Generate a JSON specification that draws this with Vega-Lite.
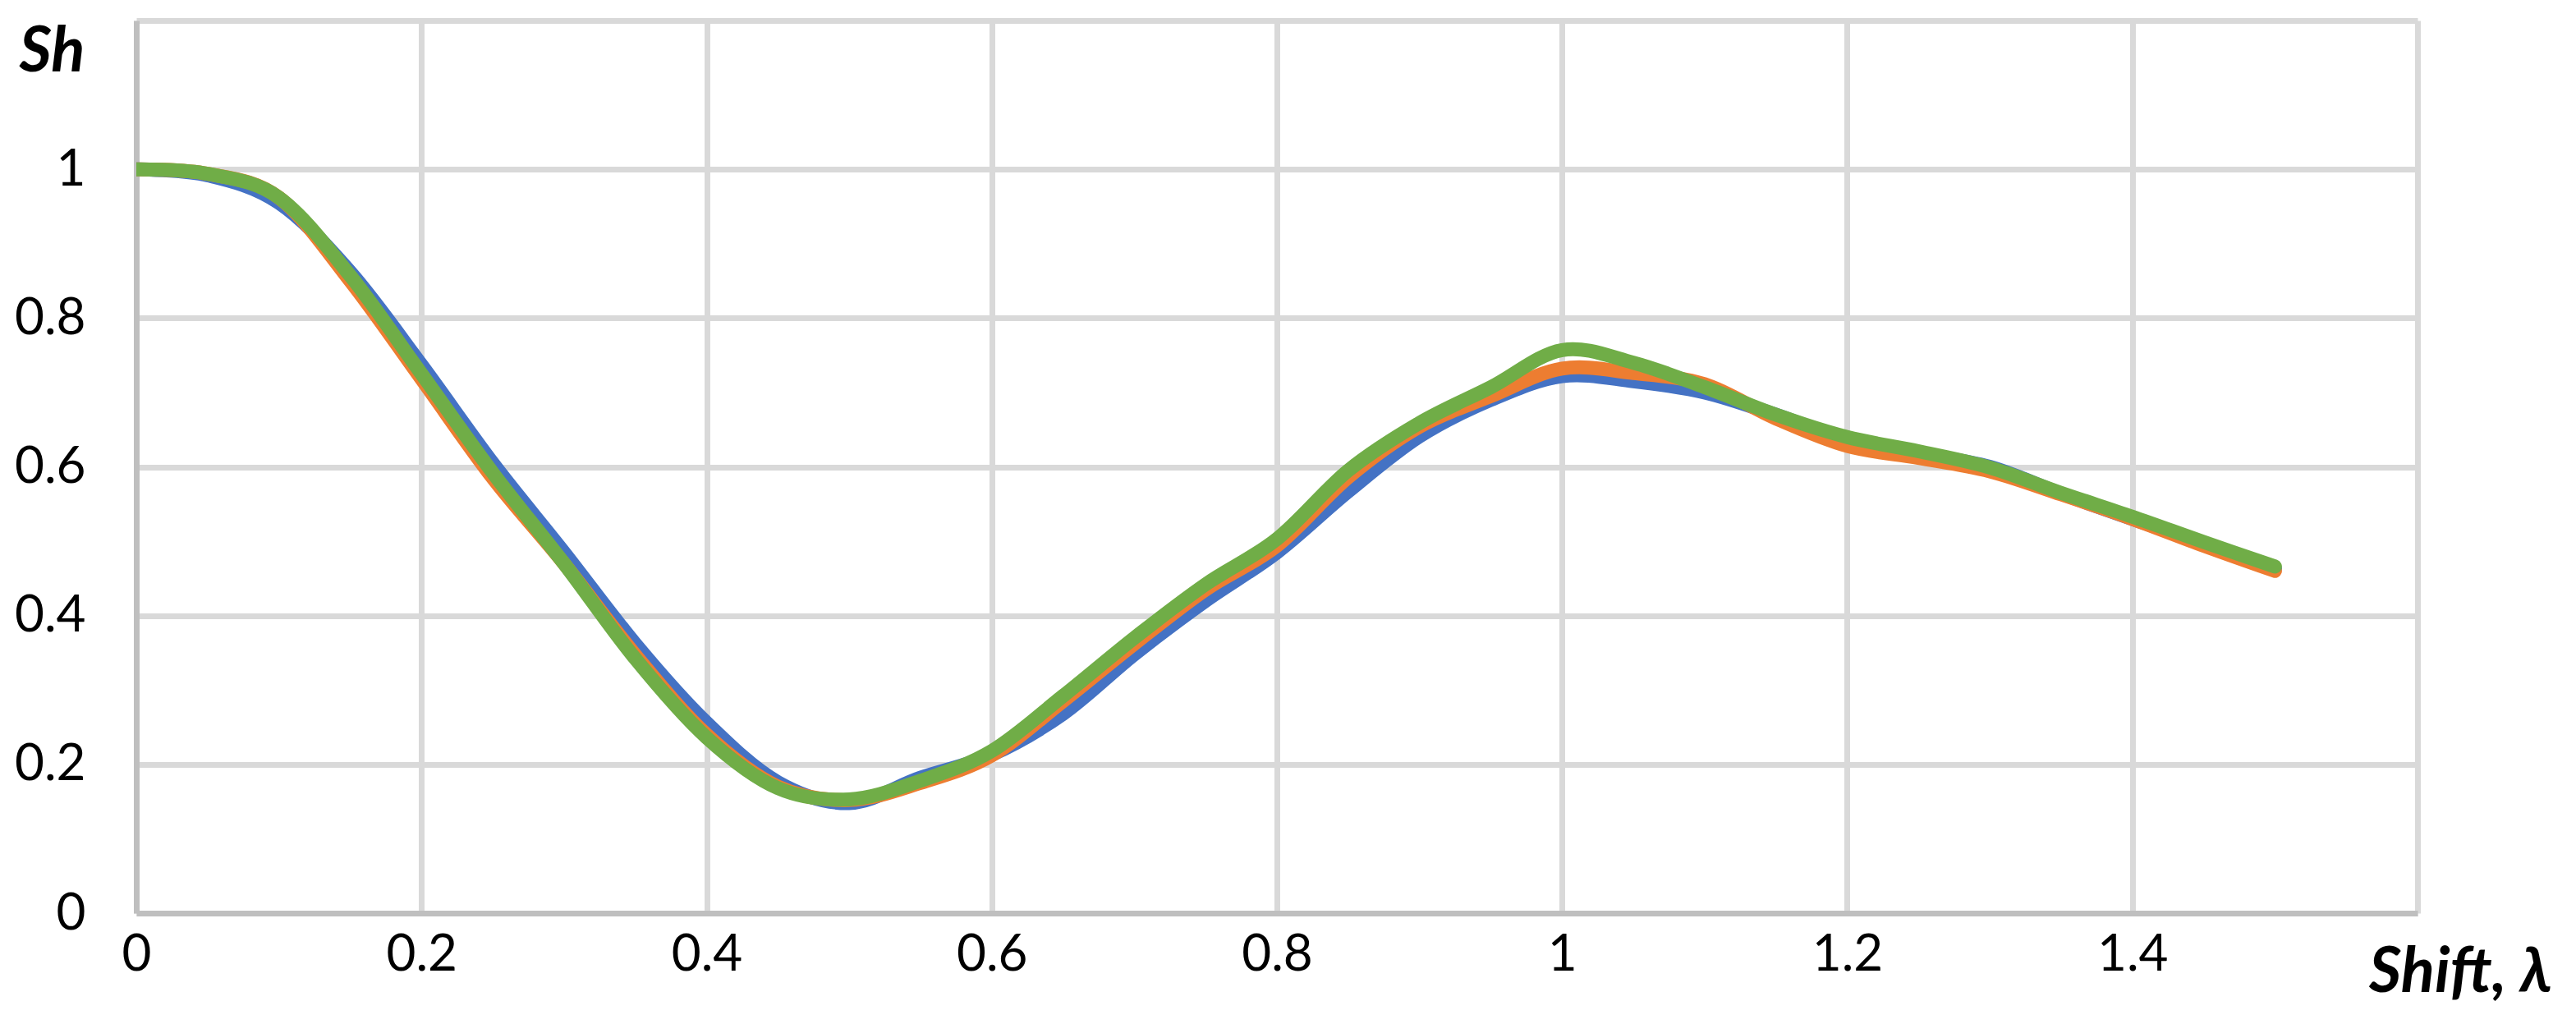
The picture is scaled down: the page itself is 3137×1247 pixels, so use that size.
{
  "$schema": "https://vega.github.io/schema/vega-lite/v6.json",
  "autosize": {"type": "none"},
  "padding": {"left": 166, "top": 25, "right": 193, "bottom": 135},
  "width": 2778,
  "height": 1087,
  "background": "white",
  "config": {
    "view": {"stroke": null},
    "font": "Lato"
  },
  "data": {
    "values": [
      {"x": 0.00, "A": 1.000, "B": 1.000, "C": 1.000},
      {"x": 0.05, "A": 0.992, "B": 0.994, "C": 0.994},
      {"x": 0.10, "A": 0.955, "B": 0.962, "C": 0.962},
      {"x": 0.15, "A": 0.862, "B": 0.850, "C": 0.857},
      {"x": 0.20, "A": 0.737, "B": 0.718, "C": 0.725},
      {"x": 0.25, "A": 0.605, "B": 0.585, "C": 0.592},
      {"x": 0.30, "A": 0.485, "B": 0.470, "C": 0.470},
      {"x": 0.35, "A": 0.362, "B": 0.347, "C": 0.342},
      {"x": 0.40, "A": 0.256, "B": 0.240, "C": 0.236},
      {"x": 0.45, "A": 0.176, "B": 0.170, "C": 0.168},
      {"x": 0.50, "A": 0.148, "B": 0.152, "C": 0.153},
      {"x": 0.55, "A": 0.182, "B": 0.175, "C": 0.178},
      {"x": 0.60, "A": 0.213, "B": 0.212, "C": 0.218},
      {"x": 0.65, "A": 0.268, "B": 0.285, "C": 0.292},
      {"x": 0.70, "A": 0.348, "B": 0.362, "C": 0.370},
      {"x": 0.75, "A": 0.420, "B": 0.435, "C": 0.442},
      {"x": 0.80, "A": 0.485, "B": 0.494, "C": 0.503},
      {"x": 0.85, "A": 0.567, "B": 0.586, "C": 0.595},
      {"x": 0.90, "A": 0.641, "B": 0.654, "C": 0.659},
      {"x": 0.95, "A": 0.690, "B": 0.695, "C": 0.707},
      {"x": 1.00, "A": 0.722, "B": 0.732, "C": 0.757},
      {"x": 1.05, "A": 0.715, "B": 0.726, "C": 0.740},
      {"x": 1.10, "A": 0.700, "B": 0.711, "C": 0.707},
      {"x": 1.15, "A": 0.670, "B": 0.665, "C": 0.670},
      {"x": 1.20, "A": 0.636, "B": 0.628, "C": 0.640},
      {"x": 1.25, "A": 0.618, "B": 0.612, "C": 0.621},
      {"x": 1.30, "A": 0.600, "B": 0.594, "C": 0.599},
      {"x": 1.35, "A": 0.564, "B": 0.563, "C": 0.565},
      {"x": 1.40, "A": 0.530, "B": 0.530, "C": 0.533},
      {"x": 1.45, "A": 0.497, "B": 0.494, "C": 0.499},
      {"x": 1.50, "A": 0.463, "B": 0.460, "C": 0.466}
    ]
  },
  "encoding": {
    "x": {
      "field": "x",
      "type": "quantitative",
      "scale": {"domain": [0, 1.6], "nice": false, "zero": false},
      "axis": {
        "values": [0, 0.2, 0.4, 0.6, 0.8, 1, 1.2, 1.4, 1.6],
        "format": "~g",
        "labelExpr": "datum.value > 1.5 ? '' : datum.label",
        "labelFont": "Lato",
        "labelFontSize": 62,
        "labelColor": "#000000",
        "labelPadding": 20,
        "labelFlush": false,
        "labelOverlap": false,
        "ticks": false,
        "tickSize": 0,
        "grid": true,
        "gridColor": "#D9D9D9",
        "gridWidth": 7,
        "domain": true,
        "domainColor": "#BFBFBF",
        "domainWidth": 7,
        "title": "Shift, λ",
        "titleFont": "Lato",
        "titleFontSize": 76,
        "titleFontWeight": "bold",
        "titleFontStyle": "italic",
        "titleColor": "#000000",
        "titleAlign": "center",
        "titleBaseline": "alphabetic",
        "titleAnchor": null,
        "titleX": 2830,
        "titleY": 95
      }
    },
    "y": {
      "type": "quantitative",
      "scale": {"domain": [0, 1.2], "nice": false},
      "axis": {
        "values": [0, 0.2, 0.4, 0.6, 0.8, 1, 1.2],
        "format": "~g",
        "labelExpr": "datum.value > 1.1 ? '' : datum.label",
        "labelFont": "Lato",
        "labelFontSize": 62,
        "labelColor": "#000000",
        "labelAlign": "right",
        "labelBaseline": "middle",
        "labelPadding": 62,
        "labelFlush": false,
        "labelOverlap": false,
        "ticks": false,
        "tickSize": 0,
        "grid": true,
        "gridColor": "#D9D9D9",
        "gridWidth": 7,
        "domain": true,
        "domainColor": "#BFBFBF",
        "domainWidth": 7,
        "title": "Sh",
        "titleFont": "Lato",
        "titleFontSize": 76,
        "titleFontWeight": "bold",
        "titleFontStyle": "italic",
        "titleColor": "#000000",
        "titleAngle": 0,
        "titleAlign": "center",
        "titleBaseline": "alphabetic",
        "titleAnchor": null,
        "titleX": -103,
        "titleY": 61
      }
    }
  },
  "layer": [
    {
      "mark": {"type": "line", "color": "#4472C4", "strokeWidth": 17, "interpolate": "cardinal", "strokeCap": "round", "strokeJoin": "round", "clip": true},
      "encoding": {"y": {"field": "A", "type": "quantitative"}}
    },
    {
      "mark": {"type": "line", "color": "#ED7D31", "strokeWidth": 17, "interpolate": "cardinal", "strokeCap": "round", "strokeJoin": "round", "clip": true},
      "encoding": {"y": {"field": "B", "type": "quantitative"}}
    },
    {
      "mark": {"type": "line", "color": "#70AD47", "strokeWidth": 17, "interpolate": "cardinal", "strokeCap": "round", "strokeJoin": "round", "clip": true},
      "encoding": {"y": {"field": "C", "type": "quantitative"}}
    }
  ]
}
